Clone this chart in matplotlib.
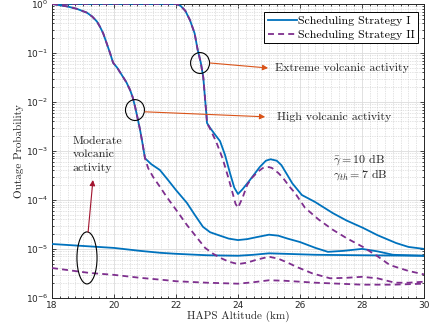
import numpy as np
import matplotlib
matplotlib.use('Agg')
import matplotlib.pyplot as plt
from matplotlib.patches import Ellipse
from matplotlib.ticker import LogLocator, MultipleLocator, NullFormatter

# values, stored as log10(outage probability)
ext_I_x = [18, 20, 22.0, 22.15, 22.3, 22.45, 22.6, 22.7, 22.8, 22.88, 22.94, 22.98, 23.0,
           23.1, 23.25, 23.42, 23.58, 23.74, 23.88, 24.0, 24.15, 24.39, 24.7, 24.9, 25.05,
           25.25, 25.4, 25.6, 25.75, 26.06, 26.48, 27.06, 27.5, 28.03, 28.5, 29.1, 29.5, 30]
ext_I_log = [0, 0, 0, -0.04, -0.14, -0.33, -0.6, -0.94, -1.2, -1.5, -1.96, -2.25, -2.43,
             -2.53, -2.66, -2.8, -3.08, -3.45, -3.75, -3.88, -3.78, -3.59, -3.33, -3.2, -3.17,
             -3.2, -3.29, -3.5, -3.66, -3.9, -4.04, -4.27, -4.42, -4.57, -4.72, -4.88, -4.96, -5.0]

ext_II_x = [18, 20, 22.0, 22.15, 22.3, 22.45, 22.6, 22.7, 22.8, 22.88, 22.94, 22.98, 23.0,
            23.1, 23.3, 23.5, 23.68, 23.8, 23.92, 24.0, 24.15, 24.3, 24.45, 24.65, 24.8, 25.0,
            25.1, 25.3, 25.45, 25.65, 25.84, 26.16, 26.6, 27.06, 27.5, 28.03, 28.5, 28.9, 29.5, 30]
ext_II_log = [0, 0, 0, -0.04, -0.14, -0.33, -0.6, -0.94, -1.2, -1.5, -1.96, -2.25, -2.43,
              -2.55, -2.82, -3.15, -3.53, -3.8, -4.08, -4.16, -3.95, -3.69, -3.55, -3.42, -3.35, -3.33,
              -3.35, -3.45, -3.55, -3.72, -3.86, -4.16, -4.4, -4.61, -4.78, -4.96, -5.15, -5.33, -5.45, -5.52]

high_I_x = [18, 18.48, 18.8, 19.13, 19.3, 19.45, 19.55, 19.65, 19.75, 19.87, 19.97, 20.1,
            20.29, 20.4, 20.52, 20.6, 20.68, 20.76, 20.84, 20.92, 20.97, 21.0, 21.2, 21.48,
            21.75, 22.0, 22.35, 22.6, 22.87, 23.1, 23.42, 23.7, 24.0, 24.3, 24.6, 25.0, 25.3,
            25.6, 26.0, 26.5, 26.9, 27.4, 28.0, 28.5, 29.0, 29.5, 30]
high_I_log = [0, -0.05, -0.1, -0.18, -0.26, -0.36, -0.47, -0.6, -0.78, -1.0, -1.2, -1.3,
              -1.49, -1.6, -1.76, -1.9, -2.1, -2.33, -2.57, -2.85, -3.04, -3.15, -3.27, -3.39,
              -3.6, -3.8, -4.06, -4.3, -4.55, -4.66, -4.73, -4.79, -4.82, -4.8, -4.76, -4.71, -4.73,
              -4.79, -4.86, -4.98, -5.06, -5.04, -5.0, -5.05, -5.12, -5.13, -5.14]

high_II_x = [18, 18.48, 18.8, 19.13, 19.3, 19.45, 19.55, 19.65, 19.75, 19.87, 19.97, 20.1,
             20.29, 20.4, 20.52, 20.6, 20.68, 20.76, 20.84, 20.92, 20.97, 21.0, 21.1, 21.26,
             21.5, 21.7, 22.0, 22.35, 22.65, 22.94, 23.2, 23.42, 23.7, 24.0, 24.3, 24.6, 25.0,
             25.3, 25.6, 25.9, 26.4, 26.97, 27.5, 28.0, 28.5, 29.06, 29.5, 30]
high_II_log = [0, -0.05, -0.1, -0.18, -0.26, -0.36, -0.47, -0.6, -0.78, -1.0, -1.2, -1.3,
               -1.49, -1.6, -1.76, -1.9, -2.1, -2.33, -2.57, -2.85, -3.04, -3.15, -3.35, -3.53,
               -3.75, -3.94, -4.2, -4.51, -4.75, -4.98, -5.1, -5.18, -5.26, -5.31, -5.28, -5.22, -5.16,
               -5.2, -5.28, -5.37, -5.5, -5.6, -5.59, -5.57, -5.6, -5.69, -5.69, -5.67]

mod_I_x = [18, 19, 20, 20.84, 21.5, 22, 23, 24, 24.5, 25, 25.5, 26.5, 28, 30]
mod_I_log = [-4.9, -4.94, -4.98, -5.04, -5.08, -5.1, -5.13, -5.14, -5.12, -5.09, -5.1, -5.12, -5.13, -5.14]

mod_II_x = [18, 19.2, 20, 20.84, 21.7, 22, 23, 24, 24.5, 25, 25.5, 26.5, 28, 29, 30]
mod_II_log = [-5.39, -5.49, -5.53, -5.59, -5.64, -5.66, -5.69, -5.71, -5.68, -5.64, -5.65, -5.69, -5.73, -5.73, -5.71]

blue = '#0072BD'
purple = '#7E2F8E'
orange = '#D95319'
darkred = '#A2142F'
serif = 'cmr10'

fig = plt.figure(figsize=(4.3, 3.27), dpi=100)
ax = fig.add_axes([0.121, 0.089, 0.865, 0.899])

solid_sets = [(ext_I_x, ext_I_log), (high_I_x, high_I_log), (mod_I_x, mod_I_log)]
dashed_sets = [(ext_II_x, ext_II_log), (high_II_x, high_II_log), (mod_II_x, mod_II_log)]

for i, (x, y) in enumerate(solid_sets):
    ax.plot(x, 10 ** np.array(y), color=blue, lw=1.3, zorder=3,
            label='Scheduling Strategy I' if i == 0 else None)
for i, (x, y) in enumerate(dashed_sets):
    ax.plot(x, 10 ** np.array(y), color=purple, lw=1.3, dashes=(3.3, 2.3), zorder=4,
            label='Scheduling Strategy II' if i == 0 else None)

ax.set_yscale('log')
ax.set_xlim(18, 30)
ax.set_ylim(1e-6, 1)
ax.set_xticks([18, 20, 22, 24, 26, 28, 30])
ax.xaxis.set_minor_locator(MultipleLocator(0.25))
ax.yaxis.set_major_locator(LogLocator(base=10, numticks=10))
ax.yaxis.set_minor_locator(LogLocator(base=10, subs=np.arange(2, 10), numticks=20))
ax.yaxis.set_minor_formatter(NullFormatter())

ax.grid(which='major', color='#dcdcdc', lw=0.6, zorder=0)
ax.grid(which='minor', color='#c8c8c8', lw=0.5, ls=(0, (1, 1.5)), zorder=0)
ax.set_axisbelow(True)
ax.tick_params(which='both', direction='in', top=True, right=True, labelsize=6.5,
               colors='#262626', width=0.6)
ax.tick_params(which='major', length=3, pad=2.5)
ax.tick_params(which='minor', length=1.5)
for s in ax.spines.values():
    s.set_linewidth(0.7)
    s.set_color('#262626')

ax.set_xlabel('HAPS Altitude (km)', family=serif, fontsize=8, color='#262626', labelpad=0.5)
ax.set_ylabel('Outage Probability', family=serif, fontsize=8, color='#262626', labelpad=1.5)

leg = ax.legend(loc='upper right', bbox_to_anchor=(0.984, 0.973), borderaxespad=0,
                prop={'family': serif, 'size': 8.6}, fancybox=False, edgecolor='k',
                framealpha=1, handlelength=2.4, handletextpad=0.1, labelspacing=0.3,
                borderpad=0.3)
leg.get_frame().set_linewidth(0.7)
leg.set_zorder(10)

# annotations (axes fraction)
for cx, cy, w, h in [(0.398, 0.799, 0.051, 0.071), (0.223, 0.639, 0.051, 0.071),
                     (0.094, 0.136, 0.054, 0.177)]:
    ax.add_patch(Ellipse((cx, cy), w, h, transform=ax.transAxes, fill=False,
                         ec='k', lw=0.8, zorder=6))

arrow = dict(arrowstyle='-|>', lw=0.8, mutation_scale=8, shrinkA=0, shrinkB=0)
ax.annotate('', xy=(0.581, 0.782), xytext=(0.425, 0.799), xycoords='axes fraction',
            arrowprops=dict(arrow, color=orange), zorder=6)
ax.annotate('', xy=(0.573, 0.616), xytext=(0.250, 0.633), xycoords='axes fraction',
            arrowprops=dict(arrow, color=orange), zorder=6)
ax.annotate('', xy=(0.110, 0.401), xytext=(0.097, 0.224), xycoords='axes fraction',
            arrowprops=dict(arrow, color=darkred), zorder=6)

txt = dict(family=serif, fontsize=8.6, color='#262626', transform=ax.transAxes, zorder=7)
ax.text(0.60, 0.782, 'Extreme volcanic activity', va='center', ha='left', **txt)
ax.text(0.605, 0.616, 'High volcanic activity', va='center', ha='left', **txt)
ax.text(0.056, 0.548, 'Moderate\nvolcanic\nactivity', va='top', ha='left',
        linespacing=1.45, **txt)
ax.text(0.755, 0.47, r'$\bar{\gamma} = 10$ dB', va='center', ha='left',
        math_fontfamily='cm', **txt)
ax.text(0.755, 0.418, r'$\gamma_{th} = 7$ dB', va='center', ha='left',
        math_fontfamily='cm', **txt)

fig.savefig('out.png', dpi=100)
